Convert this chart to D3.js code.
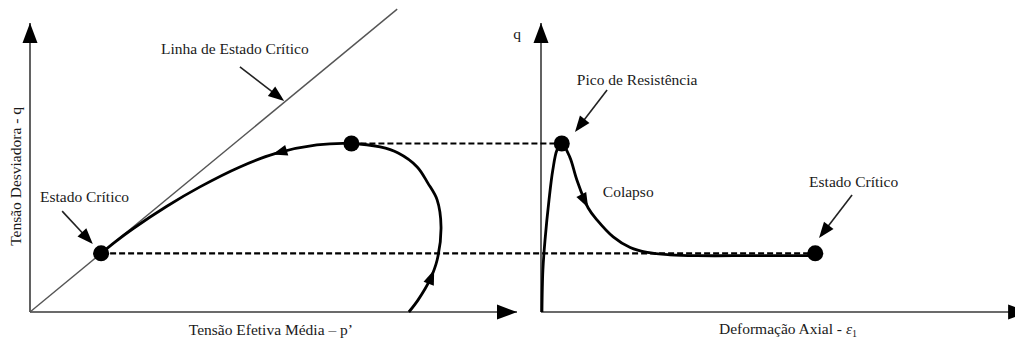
<!DOCTYPE html>
<html>
<head>
<meta charset="utf-8">
<script src="https://cdn.jsdelivr.net/npm/d3@7"></script>
<style>
  body { margin: 0; background: #fff; }
  text { font-family: "Liberation Serif", "Times New Roman", serif; font-size: 15.5px; fill: #1a1a1a; }
</style>
</head>
<body>
<svg id="chart" width="1015" height="340"></svg>
<script>
// Effective stress path in p'-q space (left panel)
const pathP = [77.8, 79.7, 82.1, 83.6, 84.4, 83.6, 81.7, 79.5, 75.6, 71.9, 66.0, 58.9, 50.3, 43.1, 34.9, 28.1, 21.2, 17.5, 14.6];
const pathQ = [0.0, 4.2, 11.1, 18.0, 29.4, 38.8, 44.6, 50.2, 55.0, 57.1, 58.3, 57.8, 54.8, 50.2, 43.3, 36.6, 28.9, 24.3, 20.3];

// Deviator stress vs axial strain (right panel)
const strainE = [0.2, 0.4, 0.85, 1.7, 2.5, 3.4, 4.4, 6.1, 7.6, 10.0, 11.9, 15.3, 18.9, 22.5, 27.3, 33.0, 45.0, 58.1];
const strainQ = [0.0, 14.5, 24.9, 38.8, 49.1, 56.1, 58.3, 53.6, 45.7, 36.0, 31.8, 26.0, 22.3, 20.6, 19.8, 19.5, 19.5, 19.5];

// Critical state line q = M p'
const cslSlope = 1.39;
const cslEndP = 75.4;

// Key states
const peakP = 66.0, peakE = 4.4, peakQ = 58.3;
const criticalP = 14.6, criticalE = 58.1, criticalQ = 20.3;

// Direction arrows along the curves (tip positions)
const pathArrowTips = [[82.5, 14.9], [49.7, 55.0]];
const strainArrowTips = [[10.0, 36.0]];

// Annotations: label anchor, pointer start, pointer tip
const leftNotes = [
  { text: "Linha de Estado Cr\u00edtico", at: [26.9, 89.3], from: [43.1, 84.8], to: [52.2, 73.0] },
  { text: "Estado Cr\u00edtico", at: [2.05, 38.1], from: [6.6, 34.9], to: [12.9, 23.5] }
];
const rightNotes = [
  { text: "Pico de Resist\u00eancia", at: [7.6, 78.5], from: [14.0, 76.8], to: [7.2, 62.3] },
  { text: "Colapso", at: [13.1, 39.8] },
  { text: "Estado Cr\u00edtico", at: [56.8, 43.3], from: [65.9, 40.5], to: [58.9, 25.6] }
];

const svg = d3.select("#chart");

const xL = d3.scaleLinear().domain([0, 100]).range([30, 517]);
const xR = d3.scaleLinear().domain([0, 100]).range([541, 1013]);
const yQ = d3.scaleLinear().domain([0, 100]).range([312, 23]);

function arrowHead(g, x, y, angle, len, half, fill) {
  const dx = Math.cos(angle), dy = Math.sin(angle);
  const bx = x - dx * len, by = y - dy * len;
  const pts = [[x, y], [bx - dy * half, by + dx * half], [bx + dy * half, by - dx * half]];
  g.append("path").attr("d", "M" + pts.join("L") + "Z").attr("fill", fill);
}

// Axes with arrowheads
const axisColor = "#3a3a3a";
function axis(x1, y1, x2, y2) {
  svg.append("line").attr("x1", x1).attr("y1", y1).attr("x2", x2).attr("y2", y2)
    .attr("stroke", axisColor).attr("stroke-width", 1.6);
  arrowHead(svg, x2, y2, Math.atan2(y2 - y1, x2 - x1), 20, 7.5, "#000");
}
axis(xL(0), yQ(0), xL(0), yQ(100));
axis(xL(0), yQ(0), xL(100), yQ(0));
axis(xR(0), yQ(0), xR(0), yQ(100));
axis(xR(0), yQ(0), xR(103.2), yQ(0));

// Critical state line
svg.append("line")
  .attr("x1", xL(0)).attr("y1", yQ(0))
  .attr("x2", xL(cslEndP)).attr("y2", yQ(cslSlope * cslEndP))
  .attr("stroke", "#555").attr("stroke-width", 1.4);

// Dashed connectors between the panels
[peakQ, criticalQ].forEach((q, i) => {
  const x1 = i === 0 ? xL(peakP) : xL(criticalP);
  const x2 = i === 0 ? xR(peakE) : xR(criticalE);
  svg.append("line").attr("x1", x1).attr("x2", x2).attr("y1", yQ(q)).attr("y2", yQ(q))
    .attr("stroke", "#000").attr("stroke-width", 2.2).attr("stroke-dasharray", "6,3");
});

// Curves
const lineL = d3.line().x(d => xL(d[0])).y(d => yQ(d[1])).curve(d3.curveCatmullRom.alpha(0.5));
const lineR = d3.line().x(d => xR(d[0])).y(d => yQ(d[1])).curve(d3.curveCatmullRom.alpha(0.5));

const pathL = svg.append("path").datum(d3.zip(pathP, pathQ)).attr("d", lineL)
  .attr("fill", "none").attr("stroke", "#000").attr("stroke-width", 2.8);
const pathR = svg.append("path").datum(d3.zip(strainE, strainQ)).attr("d", lineR)
  .attr("fill", "none").attr("stroke", "#000").attr("stroke-width", 2.8);

function arrowsOnPath(node, tips, xs) {
  const total = node.getTotalLength();
  tips.forEach(([a, b]) => {
    const tx = xs(a), ty = yQ(b);
    let best = 0, bestD = Infinity;
    for (let s = 0; s <= total; s += 0.5) {
      const p = node.getPointAtLength(s);
      const d = (p.x - tx) ** 2 + (p.y - ty) ** 2;
      if (d < bestD) { bestD = d; best = s; }
    }
    const p0 = node.getPointAtLength(Math.max(0, best - 4));
    const p1 = node.getPointAtLength(best);
    arrowHead(svg, p1.x, p1.y, Math.atan2(p1.y - p0.y, p1.x - p0.x), 15, 5.5, "#000");
  });
}
arrowsOnPath(pathL.node(), pathArrowTips, xL);
arrowsOnPath(pathR.node(), strainArrowTips, xR);

// State points
const dots = [[xL(criticalP), criticalQ], [xL(peakP), peakQ], [xR(peakE), peakQ], [xR(criticalE), criticalQ]];
svg.selectAll("circle.state").data(dots).join("circle")
  .attr("class", "state")
  .attr("cx", d => d[0]).attr("cy", d => yQ(d[1])).attr("r", 8).attr("fill", "#000");

// Annotations
function notes(list, xs) {
  list.forEach(n => {
    svg.append("text").attr("x", xs(n.at[0])).attr("y", yQ(n.at[1])).text(n.text);
    if (n.from) {
      const x1 = xs(n.from[0]), y1 = yQ(n.from[1]), x2 = xs(n.to[0]), y2 = yQ(n.to[1]);
      const ang = Math.atan2(y2 - y1, x2 - x1);
      svg.append("line").attr("x1", x1).attr("y1", y1)
        .attr("x2", x2 - Math.cos(ang) * 8).attr("y2", y2 - Math.sin(ang) * 8)
        .attr("stroke", "#222").attr("stroke-width", 1.6);
      arrowHead(svg, x2, y2, ang, 16, 6, "#000");
    }
  });
}
notes(leftNotes, xL);
notes(rightNotes, xR);

// Axis titles
svg.append("text")
  .attr("transform", `translate(21,${yQ(46.9)}) rotate(-90)`)
  .attr("text-anchor", "middle")
  .text("Tens\u00e3o Desviadora - q");
svg.append("text").attr("x", xL(32.6)).attr("y", yQ(-8)).text("Tens\u00e3o Efetiva M\u00e9dia \u2013 p\u2019");
svg.append("text").attr("x", xR(-5.9)).attr("y", yQ(94.5)).text("q");
const xt = svg.append("text").attr("x", xR(37.7)).attr("y", yQ(-7.6));
xt.append("tspan").text("Deforma\u00e7\u00e3o Axial - ");
xt.append("tspan").attr("font-style", "italic").text("\u03b5");
xt.append("tspan").attr("dy", 3).attr("font-size", "10px").text("1");
</script>
</body>
</html>
